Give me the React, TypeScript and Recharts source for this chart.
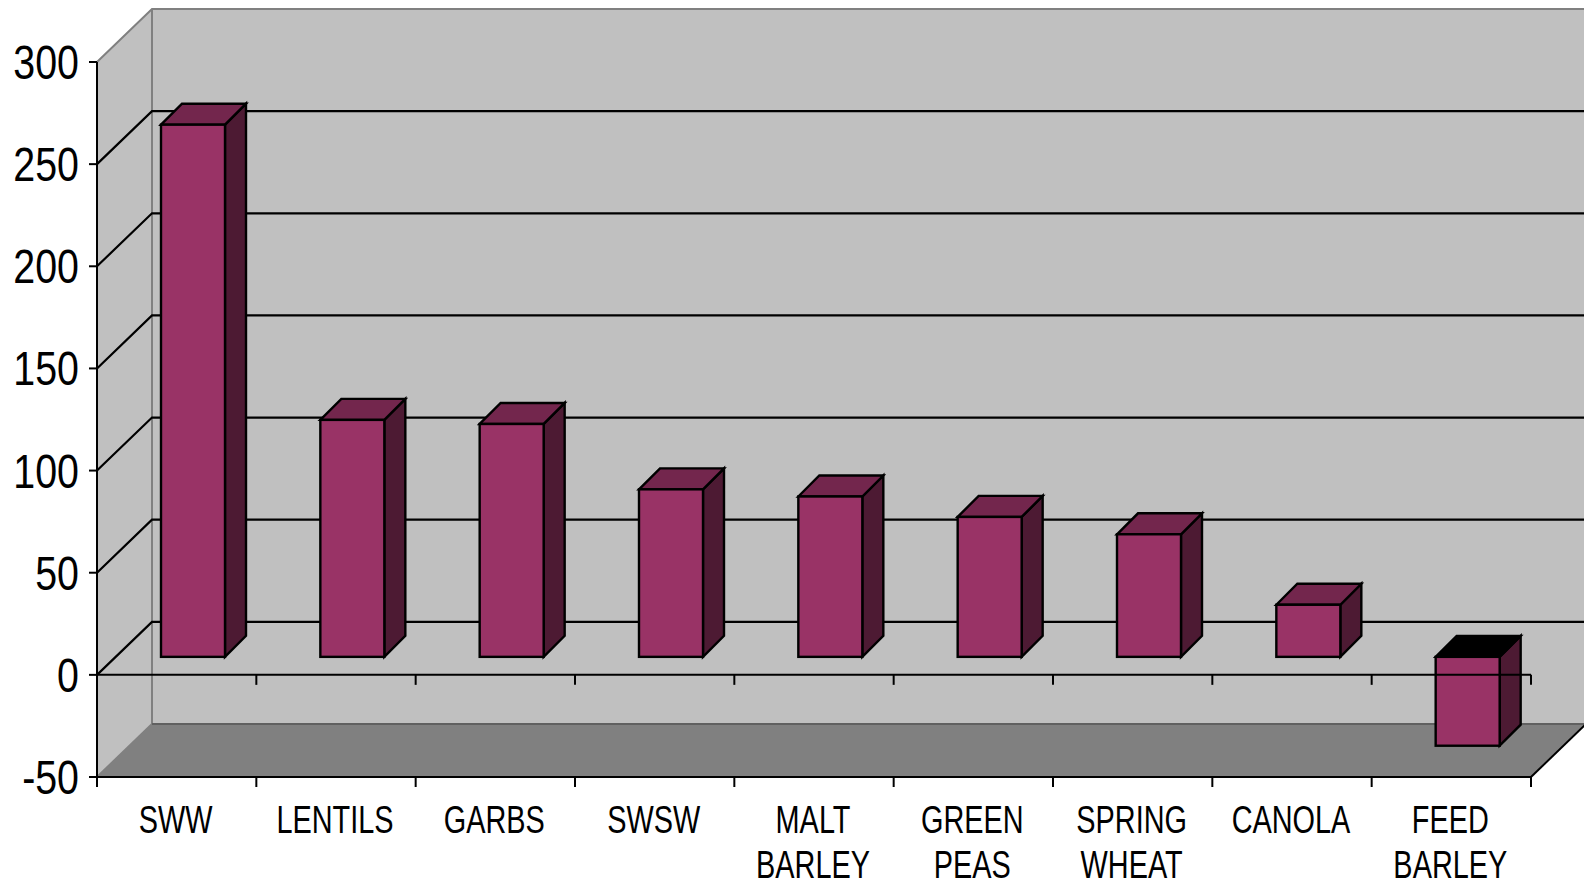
import React from 'react';
import { BarChart, Bar, XAxis, YAxis, CartesianGrid, ReferenceArea, ReferenceLine } from 'recharts';

const categories = ['SWW', 'LENTILS', 'GARBS', 'SWSW', 'MALT BARLEY', 'GREEN PEAS', 'SPRING WHEAT', 'CANOLA', 'FEED BARLEY'];
const values = [260.5, 116, 114, 82, 78.5, 68.5, 60, 25.5, -43.5];
const yTicks = [-50, 0, 50, 100, 150, 200, 250, 300];
const data = categories.map((name, i) => ({ name, value: values[i] }));

const W = 1584, H = 886;
const AXIS_W = 97, AXIS_H = 109;
const M = { top: 62, right: 53, bottom: 0, left: 0 };
const DX = 55, DY = 53;            // wall depth
const BAR_SHIFT_X = 16, BAR_SHIFT_Y = 18; // bar position inside the depth
const BDX = 21, BDY = 21;          // bar depth
const BAND = (W - AXIS_W - M.right) / categories.length;
const FONT = '"Liberation Sans", Arial, sans-serif';
const NARROW_Y = 0.82;
const NARROW_X = 0.76;

const Walls = (p: any) => {
  const { x, y, width, height } = p;
  const b = y + height, r = x + width;
  return (
    <g>
      <polygon points={`${x + DX},${y - DY} ${r + DX},${y - DY} ${r + DX},${b - DY} ${x + DX},${b - DY}`} fill="#C0C0C0" />
      <polygon points={`${x},${y} ${x + DX},${y - DY} ${x + DX},${b - DY} ${x},${b}`} fill="#C0C0C0" />
      <polygon points={`${x},${b} ${x + DX},${b - DY} ${r + DX},${b - DY} ${r},${b}`} fill="#808080" />
      <polyline points={`${x},${y} ${x + DX},${y - DY} ${r + DX},${y - DY}`} fill="none" stroke="#808080" strokeWidth={2} />
      <line x1={x + DX} y1={y - DY} x2={x + DX} y2={b - DY} stroke="#808080" strokeWidth={2} />
      <line x1={x} y1={b} x2={x + DX} y2={b - DY} stroke="#808080" strokeWidth={2} />
      <line x1={x + DX} y1={b - DY} x2={r + DX} y2={b - DY} stroke="#606060" strokeWidth={2} />
      <line x1={r} y1={b} x2={r + DX} y2={b - DY} stroke="#000" strokeWidth={2} />
    </g>
  );
};

const GridLine = (p: any) => {
  const { x1, y1, x2, y2, index } = p;
  return (
    <polyline key={`g${index}-${y1}`} points={`${x1},${y1} ${x1 + DX},${y1 - DY} ${x2 + DX},${y2 - DY}`} fill="none" stroke="#000" strokeWidth={2.2} />
  );
};

const Bar3D = (p: any) => {
  const { x, y, width, height, value } = p;
  const v = Array.isArray(value) ? value[1] : value;
  const top = Math.min(y, y + height) - BAR_SHIFT_Y;
  const bottom = Math.max(y, y + height) - BAR_SHIFT_Y;
  const l = x + BAR_SHIFT_X, r = l + width;
  return (
    <g stroke="#000" strokeWidth={2.4} strokeLinejoin="miter">
      <polygon points={`${r},${top} ${r + BDX},${top - BDY} ${r + BDX},${bottom - BDY} ${r},${bottom}`} fill="#4D1A33" />
      <polygon points={`${l},${top} ${l + BDX},${top - BDY} ${r + BDX},${top - BDY} ${r},${top}`} fill={v < 0 ? '#000000' : '#73264D'} />
      <rect x={l} y={top} width={width} height={bottom - top} fill="#993366" />
    </g>
  );
};

const CategoryTick = (p: any) => {
  const { x, payload, index } = p;
  const axisY = H - AXIS_H;
  const words = String(payload.value).split(' ');
  return (
    <g>
      <line x1={x - BAND / 2} y1={axisY} x2={x - BAND / 2} y2={axisY + 10} stroke="#000" strokeWidth={2} />
      {index === categories.length - 1 && (
        <line x1={x + BAND / 2} y1={axisY} x2={x + BAND / 2} y2={axisY + 10} stroke="#000" strokeWidth={2} />
      )}
      {words.map((w, i) => (
        <text key={w} transform={`translate(${x - 1},${833 + i * 45}) scale(${NARROW_X},1)`} textAnchor="middle" fontFamily={FONT} fontSize={38} fill="#000">{w}</text>
      ))}
    </g>
  );
};

const ValueTick = (p: any) => {
  const { x, y, payload } = p;
  return (
    <text transform={`translate(${x},${y}) scale(${NARROW_Y},1)`} dy="0.355em" textAnchor="end" fontFamily={FONT} fontSize={48} fill="#000">{payload.value}</text>
  );
};

const ZeroAxis = (p: any) => {
  const { x1, y1, x2 } = p;
  return (
    <g stroke="#000" strokeWidth={2}>
      <line x1={x1} y1={y1} x2={x2} y2={y1} />
      {categories.map((c, i) => (
        <line key={c} x1={x1 + BAND * (i + 1)} y1={y1} x2={x1 + BAND * (i + 1)} y2={y1 + 10} />
      ))}
    </g>
  );
};

export default function App() {
  return (
    <div style={{ position: 'absolute', left: 0, top: 0, width: W, height: H, overflow: 'hidden', background: '#fff' }}>
      <BarChart width={W} height={H} data={data} margin={M} barSize={64} style={{ fontFamily: FONT }}>
        <ReferenceArea y1={-50} y2={300} shape={Walls} ifOverflow="visible" zIndex={-200} />
        <CartesianGrid vertical={false} horizontal={GridLine as any} horizontalValues={yTicks.slice(1, -1)} />
        <XAxis
          dataKey="name"
          interval={0}
          height={AXIS_H}
          tickLine={false}
          tick={CategoryTick}
          axisLine={{ stroke: '#000', strokeWidth: 2 }}
        />
        <YAxis
          domain={[-50, 300]}
          ticks={yTicks}
          width={AXIS_W}
          tickSize={8}
          tickMargin={10}
          tick={ValueTick}
          tickLine={{ stroke: '#000', strokeWidth: 2 }}
          axisLine={{ stroke: '#000', strokeWidth: 2 }}
          interval={0}
        />
        <Bar dataKey="value" shape={Bar3D} isAnimationActive={false} />
        <ReferenceLine y={0} shape={ZeroAxis} />
      </BarChart>
    </div>
  );
}
